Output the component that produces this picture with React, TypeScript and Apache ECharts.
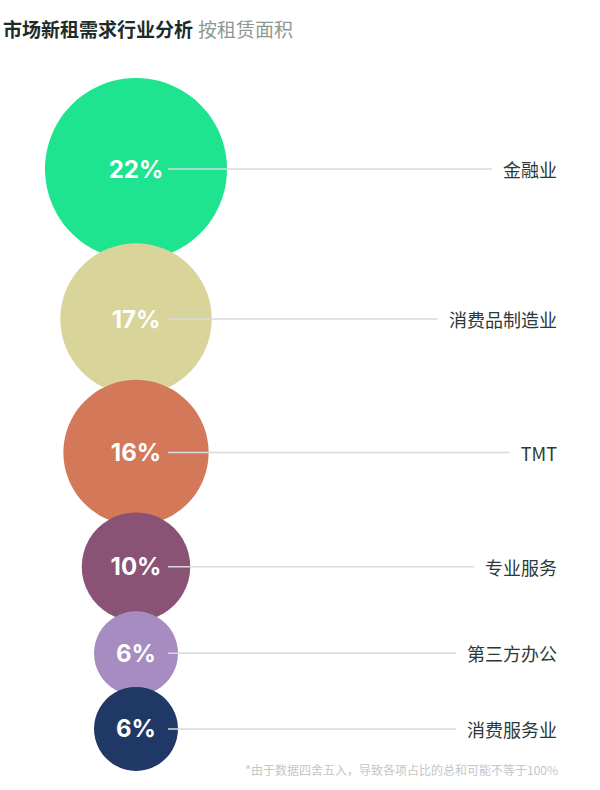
import React, { useEffect, useRef } from "react";
import * as echarts from "echarts";

const categories = ["金融业", "消费品制造业", "TMT", "专业服务", "第三方办公", "消费服务业"];
const shares = [22, 17, 16, 10, 6, 6];
const titleMain = "市场新租需求行业分析";
const titleSub = "按租赁面积";
const footnote = "*由于数据四舍五入，导致各项占比的总和可能不等于100%";

const colors = ["#1ee48f", "#d8d49a", "#d4785a", "#8a5275", "#a68cc0", "#1f3866"];

// size scale: share -> radius (px)
const minShare = Math.min(...shares);
const maxShare = Math.max(...shares);
const rMin = 42;
const rMax = 91;
const radius = (v: number) => rMin + ((v - minShare) / (maxShare - minShare)) * (rMax - rMin);

// stacking layout derived from the radii
const CX = 136;
const TOP = 78;
const PACK = 0.9;
const centers: number[] = [];
shares.forEach((v, i) => {
  if (i === 0) centers.push(TOP + radius(v));
  else centers.push(centers[i - 1] + PACK * (radius(shares[i - 1]) + radius(v)));
});

const points = shares.map((v, i) => ({
  value: [CX, centers[i], v, i],
  name: categories[i],
  itemStyle: { color: colors[i], opacity: 1 },
}));

export default function App() {
  const ref = useRef<HTMLDivElement>(null);
  useEffect(() => {
    if (!ref.current) return;
    const chart = echarts.init(ref.current, null, { renderer: "svg" });
    chart.setOption({
      animation: false,
      backgroundColor: "#ffffff",
      title: {
        text: `{a|${titleMain}} {b|${titleSub}}`,
        left: 3,
        top: 19,
        padding: 0,
        textStyle: {
          rich: {
            a: { fontSize: 19, fontWeight: "bold", color: "#1e2b28", fontFamily: "Noto Sans CJK SC" },
            b: { fontSize: 19, fontWeight: "normal", color: "#8d9893", fontFamily: "Noto Sans CJK SC" },
          },
        },
      },
      grid: { left: 0, right: 0, top: 0, bottom: 0 },
      xAxis: { type: "value", min: 0, max: 600, show: false },
      yAxis: { type: "value", min: 0, max: 790, inverse: true, show: false },
      series: [
        {
          type: "scatter",
          silent: true,
          symbol: "circle",
          symbolSize: (val: number[]) => 2 * radius(val[2]),
          data: points,
          itemStyle: { opacity: 1 },
          label: {
            show: true,
            position: "inside",
            formatter: (p: any) => `${p.value[2]}%`,
            color: "#ffffff",
            fontSize: 24,
            fontWeight: "bold",
            fontFamily: "Inter, Noto Sans, sans-serif",
          },
          emphasis: { disabled: true },
          z: 2,
        },
        {
          type: "custom",
          silent: true,
          z: 3,
          data: points.map((p) => p.value),
          renderItem: (params: any, api: any) => {
            const c = api.coord([api.value(0), api.value(1)]);
            const idx = api.value(3);
            const endX = 557;
            return {
              type: "group",
              children: [
                {
                  type: "line",
                  shape: { x1: c[0] + 32, y1: c[1], x2: endX - 4, y2: c[1] },
                  style: { stroke: "#d6dadd", lineWidth: 1.5 },
                },
                {
                  type: "text",
                  x: endX,
                  y: c[1],
                  style: {
                    text: categories[idx],
                    align: "right",
                    verticalAlign: "middle",
                    fontSize: 18,
                    fill: "#2b3a38",
                    fontFamily: "Noto Sans CJK SC",
                    backgroundColor: "#ffffff",
                    padding: [2, 0, 2, 11],
                  },
                },
              ],
            };
          },
        },
      ],
      graphic: [
        {
          type: "text",
          right: 42,
          top: 763,
          style: {
            text: footnote,
            fontSize: 12,
            fill: "#c4c6c6",
            fontFamily: "Noto Sans CJK SC",
          },
        },
      ],
    });
    return () => chart.dispose();
  }, []);
  return (
    <div
      ref={ref}
      style={{ position: "absolute", left: 0, top: 0, width: 600, height: 790 }}
    />
  );
}
